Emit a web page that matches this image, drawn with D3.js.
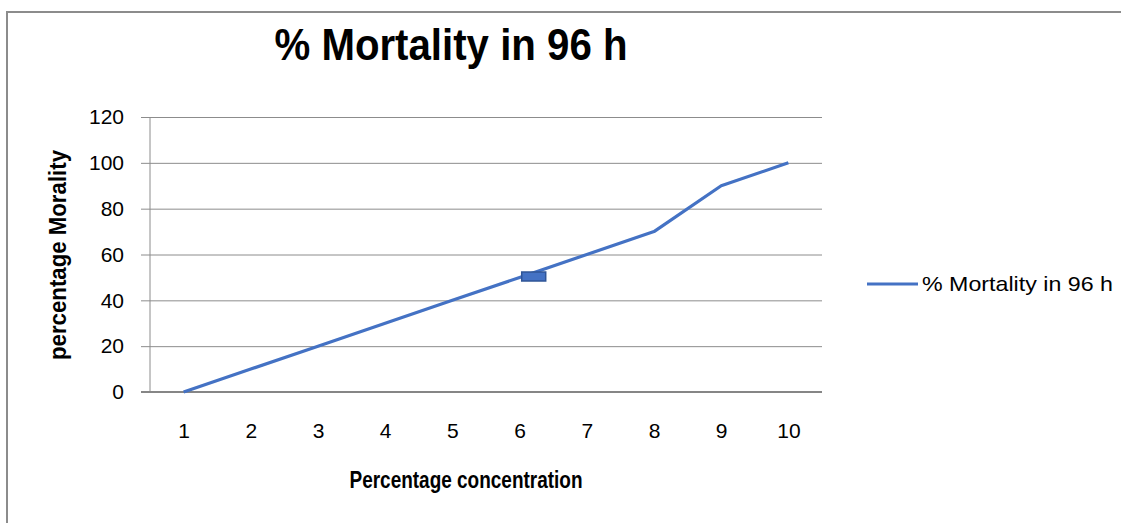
<!DOCTYPE html>
<html>
<head>
<meta charset="utf-8">
<script src="https://cdn.jsdelivr.net/npm/d3@7"></script>
<style>
  html, body { margin: 0; padding: 0; background: #fff; }
  svg { display: block; }
</style>
</head>
<body>
<svg id="chart" width="1121" height="523"></svg>
<script>
// ---- data ----
const categories = ["1", "2", "3", "4", "5", "6", "7", "8", "9", "10"];
const mortality = [0, 10, 20, 30, 40, 50, 60, 70, 90, 100];
const yTicks = [0, 20, 40, 60, 80, 100, 120];
const seriesName = "% Mortality in 96 h";
const chartTitle = "% Mortality in 96 h";
const xTitle = "Percentage concentration";
const yTitle = "percentage Morality";
// stray marker drawn on the line near category 6
const strayMarker = { cat: "6", offset: 0.21, value: 50.4 };

const svg = d3.select("#chart");
const W = 1121, H = 523;
const plot = { left: 150, right: 822, top: 117, bottom: 392 };
const font = "'Liberation Sans', Arial, sans-serif";
const lineColor = "#4472C4";

// chart border
svg.append("rect").attr("x", 7).attr("y", 12).attr("width", W + 20).attr("height", H + 20)
  .attr("fill", "none").attr("stroke", "#8c8c8c").attr("stroke-width", 2);

const x = d3.scalePoint().domain(categories).range([plot.left, plot.right]).padding(0.5);
const y = d3.scaleLinear().domain([0, 120]).range([plot.bottom, plot.top]);

// gridlines + y axis
const yAxis = d3.axisLeft(y).tickValues(yTicks).tickSize(-(plot.right - plot.left)).tickPadding(16).tickFormat(d3.format("d"));
const gy = svg.append("g").attr("transform", `translate(${plot.left},0)`).call(yAxis);
gy.select(".domain").remove();
gy.selectAll(".tick line").attr("stroke", "#8c8c8c").attr("stroke-width", 1)
  .attr("x1", -9);
gy.selectAll(".tick text").attr("font-family", font).attr("font-size", 21).attr("fill", "#000")
  .attr("x", -26);
// y axis line
svg.append("line").attr("x1", plot.left).attr("x2", plot.left).attr("y1", plot.top).attr("y2", plot.bottom)
  .attr("stroke", "#8c8c8c").attr("stroke-width", 1);

// x axis
const xAxis = d3.axisBottom(x).tickSize(0).tickPadding(38);
const gx = svg.append("g").attr("transform", `translate(0,${plot.bottom})`).call(xAxis);
gx.select(".domain").remove();
gx.selectAll(".tick text").attr("font-family", font).attr("font-size", 21).attr("fill", "#000")
  .attr("dy", 0).attr("y", 46);
svg.append("line").attr("x1", plot.left - 9).attr("x2", plot.right).attr("y1", plot.bottom).attr("y2", plot.bottom)
  .attr("stroke", "#868686").attr("stroke-width", 2);

// series line
const line = d3.line().x((d, i) => x(categories[i])).y(d => y(d));
svg.append("path").datum(mortality).attr("d", line)
  .attr("fill", "none").attr("stroke", lineColor).attr("stroke-width", 3.2)
  .attr("stroke-linejoin", "round");

// stray marker
const mx = x(strayMarker.cat) + strayMarker.offset * x.step();
const my = y(strayMarker.value);
svg.append("rect").attr("x", mx - 12).attr("y", my - 4.5).attr("width", 24).attr("height", 9)
  .attr("fill", lineColor).attr("stroke", "#2F5597").attr("stroke-width", 1.5);

// title
svg.append("text").attr("x", 451).attr("y", 60).attr("text-anchor", "middle")
  .attr("font-family", font).attr("font-weight", "bold").attr("font-size", 45)
  .attr("textLength", 353).attr("lengthAdjust", "spacingAndGlyphs")
  .text(chartTitle);

// x title
svg.append("text").attr("x", 466).attr("y", 488).attr("text-anchor", "middle")
  .attr("font-family", font).attr("font-weight", "bold").attr("font-size", 23)
  .attr("textLength", 233).attr("lengthAdjust", "spacingAndGlyphs")
  .text(xTitle);

// y title
svg.append("text").attr("transform", "translate(66,255) rotate(-90)").attr("text-anchor", "middle")
  .attr("font-family", font).attr("font-weight", "bold").attr("font-size", 23)
  .attr("textLength", 210).attr("lengthAdjust", "spacingAndGlyphs")
  .text(yTitle);

// legend
svg.append("line").attr("x1", 867).attr("x2", 918).attr("y1", 284).attr("y2", 284)
  .attr("stroke", lineColor).attr("stroke-width", 3.2);
svg.append("text").attr("x", 922).attr("y", 291)
  .attr("font-family", font).attr("font-size", 21)
  .attr("textLength", 191).attr("lengthAdjust", "spacingAndGlyphs")
  .text(seriesName);
</script>
</body>
</html>
